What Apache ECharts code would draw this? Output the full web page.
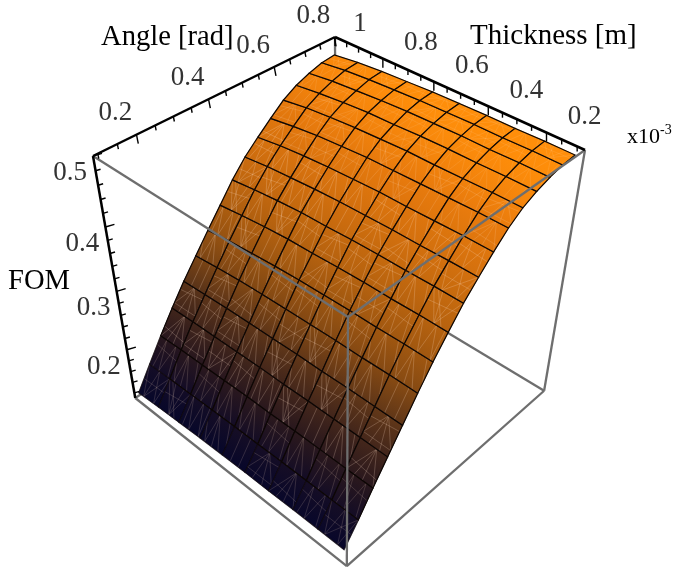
<!DOCTYPE html>
<html><head><meta charset="utf-8"><style>html,body{margin:0;padding:0;background:#fff}#c{width:675px;height:577px}</style>
<script src="https://cdn.jsdelivr.net/npm/echarts@6/dist/echarts.min.js"></script></head><body><div id="c"></div>
<script>
const angleValues=[0.1,0.14375,0.1875,0.23125,0.275,0.31875,0.3625,0.40625,0.45,0.49375,0.5375,0.58125,0.625,0.66875,0.7125,0.75625,0.8];
const thicknessValues=[1,0.9,0.8,0.7,0.6,0.5,0.4,0.3,0.2,0.1];
// FOM: one row per angle, one column per thickness
const fomRows=[
[.115,.118,.120,.122,.123,.124,.124,.125,.125,.125],
[.152,.154,.155,.156,.157,.157,.158,.158,.158,.158],
[.188,.190,.191,.192,.193,.193,.194,.194,.194,.194],
[.222,.224,.225,.226,.227,.227,.228,.228,.228,.228],
[.254,.256,.258,.259,.260,.261,.261,.262,.262,.262],
[.283,.287,.290,.292,.293,.294,.295,.295,.296,.296],
[.312,.317,.320,.323,.325,.326,.327,.327,.328,.328],
[.340,.345,.349,.352,.353,.355,.356,.356,.357,.357],
[.368,.373,.377,.380,.381,.383,.384,.384,.385,.385],
[.392,.397,.400,.403,.405,.406,.407,.407,.408,.408],
[.411,.417,.421,.424,.426,.428,.428,.429,.430,.430],
[.429,.435,.440,.443,.446,.447,.448,.449,.450,.450],
[.446,.452,.456,.459,.461,.463,.463,.464,.465,.465],
[.458,.463,.467,.470,.471,.473,.474,.474,.475,.475],
[.466,.471,.474,.477,.479,.480,.481,.481,.482,.482],
[.472,.477,.480,.482,.484,.485,.486,.486,.487,.487],
[.474,.479,.482,.484,.486,.487,.488,.488,.489,.489]];
const angleTicks=[0.1,0.15,0.2,0.25,0.3,0.35,0.4,0.45,0.5,0.55,0.6,0.65,0.7,0.75,0.8];
const angleLabels=[0.2,0.4,0.6,0.8];
const thicknessTicks=[1,0.95,0.9,0.85,0.8,0.75,0.7,0.65,0.6,0.55,0.5,0.45,0.4,0.35,0.3,0.25,0.2,0.15,0.1];
const thicknessLabels=[1,0.8,0.6,0.4,0.2];
const fomTicks=[0.5,0.48,0.46,0.44,0.42,0.4,0.38,0.36,0.34,0.32,0.3,0.28,0.26,0.24,0.22,0.2,0.18,0.16,0.14,0.12];
const fomLabels=[0.5,0.4,0.3,0.2];
const box={a:[0.088,0.8025],t:[1.0,0.075],z:[0.11,0.5]};
// camera: top face of the box on the page, and the vanishing point of its verticals
const q=[[93,156],[335,37],[585,150],[348,317]];
const vanish=[342,1581];
const bottomLeftY=398;
function homog(p){const [x0,y0]=p[0],[x1,y1]=p[1],[x2,y2]=p[2],[x3,y3]=p[3];
 const dx1=x1-x2,dx2=x3-x2,sx=x0-x1+x2-x3,dy1=y1-y2,dy2=y3-y2,sy=y0-y1+y2-y3;
 const det=dx1*dy2-dx2*dy1,g=(sx*dy2-dx2*sy)/det,h=(dx1*sy-sx*dy1)/det;
 return [[x1-x0+g*x1,x3-x0+h*x3,x0],[y1-y0+g*y1,y3-y0+h*y3,y0],[g,h,1]];}
const M=homog(q);
const lam=(q[0][1]-bottomLeftY)/(vanish[1]-bottomLeftY);
function proj(a,t,z){
 const u=(a-box.a[0])/(box.a[1]-box.a[0]),v=(t-box.t[0])/(box.t[1]-box.t[0]),w=(z-box.z[0])/(box.z[1]-box.z[0]);
 const k=(1-w)*lam;
 const X=M[0][0]*u+M[0][1]*v+M[0][2]-k*vanish[0],Y=M[1][0]*u+M[1][1]*v+M[1][2]-k*vanish[1],W=M[2][0]*u+M[2][1]*v+M[2][2]-k;
 return [X/W,Y/W];
}
const colorStops=[[.11,'#06062a'],[.135,'#09082a'],[.17,'#1c1022'],[.2,'#2e1a1c'],[.25,'#54301a'],[.3,'#8a4c12'],[.35,'#b2600f'],[.4,'#cf6e0e'],[.45,'#e97b0d'],[.47,'#f6860c'],[.485,'#ff8e0a']];
function colorAt(z){for(let i=1;i<colorStops.length;i++){if(z<=colorStops[i][0]){const a=colorStops[i-1],b=colorStops[i];return echarts.color.lerp(Math.max(0,(z-a[0])/(b[0]-a[0])),[a[1],b[1]]);}}return colorStops[colorStops.length-1][1];}
const cells=[];
for(let i=0;i<angleValues.length-1;i++)for(let j=0;j<thicknessValues.length-1;j++)cells.push([i,j]);
// faint triangulation seams inside each mesh cell
const seamPatterns=[
[[.25,0,0,1],[.25,0,.5,1],[.25,0,1,1],[.75,0,.5,1],[.75,0,1,1],[0,.5,1,.5]],
[[.2,0,.35,1],[.5,0,.35,1],[.8,0,.35,1],[.2,0,0,.6],[.8,1,1,.3]],
[[0,0,.6,1],[.3,0,.6,1],[1,0,.6,1],[.6,1,.6,0],[0,.35,1,.25]],
[[0,1,.5,0],[.3,1,.5,0],[.7,1,.5,0],[1,1,.5,0],[0,.55,1,.65],[.15,1,.75,0]],
[[.35,0,.35,1],[.7,0,.7,1]],
[[.15,0,.3,1],[.45,0,.3,1],[.45,0,.75,1],[.9,0,.75,1],[0,.7,1,.6]],
[[.15,1,.15,0],[.15,1,.45,0],[.6,1,.45,0],[.6,1,.9,0],[.9,1,.9,0]],
[[.5,1,0,.2],[.5,1,.3,0],[.5,1,.7,0],[.5,1,1,.2],[0,.2,1,.2],[0,.7,1,.8]]
];
function renderCell(params,api){
 const i=api.value(0),j=api.value(1);
 const a0=angleValues[i],a1=angleValues[i+1],t0=thicknessValues[j],t1=thicknessValues[j+1];
 const z00=fomRows[i][j],z01=fomRows[i][j+1],z10=fomRows[i+1][j],z11=fomRows[i+1][j+1];
 const P=(a,t,z)=>api.coord(proj(a,t,z));
 const p00=P(a0,t0,z00),p01=P(a0,t1,z01),p11=P(a1,t1,z11),p10=P(a1,t0,z10);
 const lo=[(p00[0]+p01[0])/2,(p00[1]+p01[1])/2],hi=[(p10[0]+p11[0])/2,(p10[1]+p11[1])/2];
 const fill=new echarts.graphic.LinearGradient(lo[0],lo[1],hi[0],hi[1],[{offset:0,color:colorAt((z00+z01)/2)},{offset:1,color:colorAt((z10+z11)/2)}],true);
 const kids=[{type:'polygon',shape:{points:[p00,p01,p11,p10]},style:{fill:fill,stroke:fill,lineWidth:.6}}];
 const mid=(z00+z10)/2, alpha=mid>.46?.14:mid>.42?.2:mid>.2?.28:.2;
 const pat=seamPatterns[(i*5+j*3+(i*j)%4)%seamPatterns.length];
 const bl=(s,r)=>{const x0=p00[0]+(p01[0]-p00[0])*s,y0=p00[1]+(p01[1]-p00[1])*s,x1=p10[0]+(p11[0]-p10[0])*s,y1=p10[1]+(p11[1]-p10[1])*s;return [x0+(x1-x0)*r,y0+(y1-y0)*r];};
 pat.forEach(l=>{const A=bl(l[0],l[1]),B=bl(l[2],l[3]);kids.push({type:'line',shape:{x1:A[0],y1:A[1],x2:B[0],y2:B[1]},style:{stroke:'rgba(255,225,200,'+alpha+')',lineWidth:.8}});});
 kids.push({type:'polygon',shape:{points:[p00,p01,p11,p10]},style:{fill:'none',stroke:mid<.17?'rgba(12,6,4,.55)':'#0c0604',lineWidth:1.2}});
 return {type:'group',children:kids};
}
const A=box.a,T=box.t,Z=box.z;
const backEdges=[
 [A[1],T[0],Z[1],A[1],T[0],Z[0]],
 [A[1],T[0],Z[0],A[1],T[1],Z[0]],
 [A[1],T[0],Z[0],A[0],T[0],Z[0]]
];
const frontEdges=[
 [A[0],T[0],Z[1],A[0],T[1],Z[1]],
 [A[1],T[1],Z[1],A[0],T[1],Z[1]],
 [A[0],T[1],Z[1],A[0],T[1],Z[0]],
 [A[0],T[0],Z[0],A[0],T[1],Z[0]],
 [A[1],T[1],Z[0],A[0],T[1],Z[0]],
 [A[1],T[1],Z[1],A[1],T[1],Z[0]]
];
function renderEdge(p,api){const a=api.coord(proj(api.value(0),api.value(1),api.value(2))),b=api.coord(proj(api.value(3),api.value(4),api.value(5)));
 return {type:'line',shape:{x1:a[0],y1:a[1],x2:b[0],y2:b[1]},style:{stroke:'#6e6e6e',lineWidth:2.3}};}
const axisLines=[[A[0],T[0],Z[1],A[1],T[0],Z[1]],[A[1],T[0],Z[1],A[1],T[1],Z[1]],[A[0],T[0],Z[1],A[0],T[0],Z[0]]];
function renderAxis(p,api){const a=api.coord(proj(api.value(0),api.value(1),api.value(2))),b=api.coord(proj(api.value(3),api.value(4),api.value(5)));
 return {type:'line',shape:{x1:a[0],y1:a[1],x2:b[0],y2:b[1]},style:{stroke:'#000',lineWidth:2.5}};}
const tickData=[];
angleTicks.forEach(v=>tickData.push([v,T[0],Z[1],angleLabels.includes(v)?1:0,0]));
thicknessTicks.forEach(v=>tickData.push([A[1],v,Z[1],thicknessLabels.includes(v)?1:0,1]));
fomTicks.forEach(v=>tickData.push([A[0],T[0],v,fomLabels.includes(v)?1:0,2]));
const tickDirs=[[.2,1],[0,1],[1,-.3]];
function renderTick(p,api){const s=api.coord(proj(api.value(0),api.value(1),api.value(2))),k=api.value(4),len=api.value(3)?9:5,dir=tickDirs[k];
 return {type:'line',shape:{x1:s[0],y1:s[1],x2:s[0]+dir[0]*len,y2:s[1]+dir[1]*len},style:{stroke:'#000',lineWidth:1.4}};}
const labelData=[];
angleLabels.forEach(v=>labelData.push([v,T[0],Z[1],-21,-21.5,String(v)]));
thicknessLabels.forEach(v=>labelData.push([A[1],v,Z[1],v===1?25:38,v===1?-13:-15.5,String(v)]));
fomLabels.forEach(v=>labelData.push([A[0],T[0],v,-23,17,String(v)]));
function renderLabel(p,api){const s=api.coord(proj(api.value(0),api.value(1),api.value(2)));
 return {type:'text',x:s[0]+api.value(3),y:s[1]+api.value(4),style:{text:labelData[p.dataIndex][5],font:'27px "Liberation Serif"',fill:'#333',textAlign:'center',textVerticalAlign:'middle'}};}
const custom=(name,data,renderItem,z)=>({type:'custom',name,data,renderItem,z,coordinateSystem:'cartesian2d',clip:false,silent:true,animation:false});
const chart=echarts.init(document.getElementById('c'),null,{renderer:'canvas'});
chart.setOption({animation:false,backgroundColor:'#fff',
 grid:{left:0,right:0,top:0,bottom:0},
 xAxis:{type:'value',min:0,max:675,show:false},
 yAxis:{type:'value',min:0,max:577,inverse:true,show:false},
 series:[custom('back',backEdges,renderEdge,1),custom('surface',cells,renderCell,2),custom('frame',frontEdges,renderEdge,3),custom('axes',axisLines,renderAxis,4),custom('ticks',tickData,renderTick,4),custom('tickLabels',labelData.map(r=>r.slice(0,5)),renderLabel,5)],
 graphic:[
  {type:'text',left:101,top:23,style:{text:'Angle [rad]',font:'28.6px "Liberation Serif"',fill:'#000'}},
  {type:'text',left:470,top:22,style:{text:'Thickness [m]',font:'29px "Liberation Serif"',fill:'#000'}},
  {type:'text',left:8,top:267,style:{text:'FOM',font:'28.6px "Liberation Serif"',fill:'#000'}},
  {type:'text',left:627,top:126,style:{text:'x10',font:'22px "Liberation Serif"',fill:'#000'}},
  {type:'text',left:660,top:123,style:{text:'-3',font:'14px "Liberation Serif"',fill:'#000'}}
 ]});
</script></body></html>
